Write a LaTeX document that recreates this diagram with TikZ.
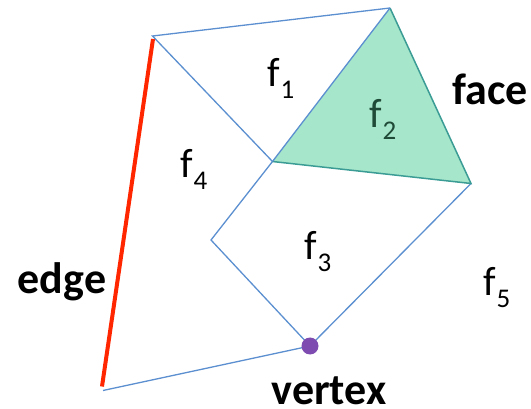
\documentclass[tikz,border=0pt]{standalone}
\usepackage{fontspec}
\setmainfont{Carlito}
\definecolor{bl}{HTML}{5B8FD0}
\definecolor{rd}{HTML}{FF2600}
\definecolor{gf}{HTML}{A6E6CA}
\definecolor{gb}{HTML}{3B9C95}
\definecolor{pu}{HTML}{7E4CB0}
\definecolor{dg}{HTML}{1F4A38}
\newcommand{\flab}[2]{#1\kern1pt\raisebox{-12pt}{\fontsize{27}{27}\selectfont #2}}
\tikzset{
  lbl/.style={inner sep=0pt,anchor=base west,font=\fontsize{41}{44}\selectfont},
  blbl/.style={inner sep=0pt,anchor=base,font=\fontsize{44}{48}\selectfont\bfseries},
  bedge/.style={draw=bl,line width=1.3pt},
}
\begin{document}
\begin{tikzpicture}[x=1pt,y=-1pt]
\useasboundingbox (0,0) rectangle (531,409);
\coordinate (A) at (152.5,36);
\coordinate (B) at (390,8);
\coordinate (C) at (272.5,161.5);
\coordinate (D) at (471,183.5);
\coordinate (E) at (211,240);
\coordinate (F) at (310,346);
\coordinate (G) at (103,390.5);
\coordinate (A2) at (153,39);
\coordinate (G2) at (102,386.5);
\fill[gf] (B) -- (C) -- (D) -- cycle;
\draw[bedge] (G) -- (F) -- (D);
\draw[bedge] (F) -- (E) -- (C) -- (A) -- (B);
\draw[draw=gb,line width=1.5pt] (C) -- (D) -- (B);
\draw[bedge] (C) -- (B);
\draw[draw=rd,line width=4pt] (A2) -- (G2);
\fill[pu] (F) circle (8.5);
\node[lbl] (f1) at (267,87) {\flab{f}{1}};
\node[lbl,text=dg] (f2) at (369,128) {\flab{f}{2}};
\node[lbl] (f4) at (180,178) {\flab{f}{4}};
\node[lbl] (f3) at (304,260) {\flab{f}{3}};
\node[lbl] (f5) at (483,296) {\flab{f}{5}};
\node[blbl] (face) at (490,105) {face};
\node[blbl] (edge) at (62,294) {edge};
\node[blbl,text depth=0pt] (vertex) at (329,404) {vertex};
\end{tikzpicture}
\end{document}
